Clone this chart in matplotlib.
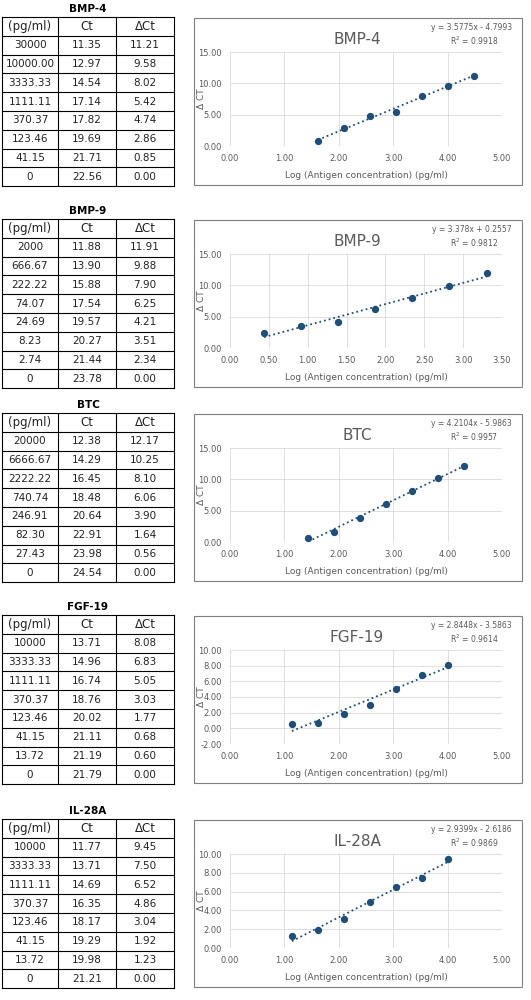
import numpy as np
import matplotlib.pyplot as plt

names = ["BMP-4", "BMP-9", "BTC", "FGF-19", "IL-28A"]
conc = [
    ["30000", "10000.00", "3333.33", "1111.11", "370.37", "123.46", "41.15", "0"],
    ["2000", "666.67", "222.22", "74.07", "24.69", "8.23", "2.74", "0"],
    ["20000", "6666.67", "2222.22", "740.74", "246.91", "82.30", "27.43", "0"],
    ["10000", "3333.33", "1111.11", "370.37", "123.46", "41.15", "13.72", "0"],
    ["10000", "3333.33", "1111.11", "370.37", "123.46", "41.15", "13.72", "0"],
]
ct = [
    [11.35, 12.97, 14.54, 17.14, 17.82, 19.69, 21.71, 22.56],
    [11.88, 13.90, 15.88, 17.54, 19.57, 20.27, 21.44, 23.78],
    [12.38, 14.29, 16.45, 18.48, 20.64, 22.91, 23.98, 24.54],
    [13.71, 14.96, 16.74, 18.76, 20.02, 21.11, 21.19, 21.79],
    [11.77, 13.71, 14.69, 16.35, 18.17, 19.29, 19.98, 21.21],
]
dct = [
    [11.21, 9.58, 8.02, 5.42, 4.74, 2.86, 0.85, 0.00],
    [11.91, 9.88, 7.90, 6.25, 4.21, 3.51, 2.34, 0.00],
    [12.17, 10.25, 8.10, 6.06, 3.90, 1.64, 0.56, 0.00],
    [8.08, 6.83, 5.05, 3.03, 1.77, 0.68, 0.60, 0.00],
    [9.45, 7.50, 6.52, 4.86, 3.04, 1.92, 1.23, 0.00],
]
slopes = [3.5775, 3.378, 4.2104, 2.8448, 2.9399]
intercepts = [-4.7993, 0.2557, -5.9863, -3.5863, -2.6186]
eq_text = ["y = 3.5775x - 4.7993", "y = 3.378x + 0.2557", "y = 4.2104x - 5.9863",
           "y = 2.8448x - 3.5863", "y = 2.9399x - 2.6186"]
r2_text = ["0.9918", "0.9812", "0.9957", "0.9614", "0.9869"]
xmax = [5, 3.5, 5, 5, 5]
xstep = [1, 0.5, 1, 1, 1]
yrange = [(0, 15, 5), (0, 15, 5), (0, 15, 5), (-2, 10, 2), (0, 10, 2)]
offsets = [0, 202, 396, 598, 802]

W, H = 531, 1000
fig = plt.figure(figsize=(W / 100, H / 100), dpi=100)
bg = fig.add_axes([0, 0, 1, 1])
bg.set_xlim(0, W)
bg.set_ylim(H, 0)
bg.axis("off")

def px_axes(x0, y0, x1, y1):
    return fig.add_axes([x0 / W, 1 - y1 / H, (x1 - x0) / W, (y1 - y0) / H])

col_x = [2, 58, 116, 174]
gray = "#595959"
for i, name in enumerate(names):
    o = offsets[i]
    # table
    bg.text(88, o + 9, name, ha="center", va="center", fontsize=7.5, fontweight="bold")
    top, rh = o + 17, 18.8
    nrows = 9
    for r in range(nrows + 1):
        bg.plot([col_x[0], col_x[-1]], [top + r * rh] * 2, color="black", lw=0.8)
    for c in col_x:
        bg.plot([c, c], [top, top + nrows * rh], color="black", lw=0.8)
    rows = [["(pg/ml)", "Ct", "ΔCt"]] + [[conc[i][k], f"{ct[i][k]:.2f}", f"{dct[i][k]:.2f}"]
                                         for k in range(8)]
    for r, row in enumerate(rows):
        for c, val in enumerate(row):
            bg.text((col_x[c] + col_x[c + 1]) / 2, top + (r + 0.5) * rh, val,
                    ha="center", va="center", fontsize=8.5 if r == 0 else 7.5, color="#222222")
    # chart box
    bg.add_patch(plt.Rectangle((194, o + 18), 328, 167, fill=False, ec="#7f7f7f", lw=0.8))
    bg.text(357, o + 40, name, ha="center", va="center", fontsize=11, color=gray)
    bg.text(512, o + 27, eq_text[i], ha="right", va="center", fontsize=5.5, color=gray)
    bg.text(498, o + 41, "R$^2$ = " + r2_text[i], ha="right", va="center", fontsize=5.5, color=gray)
    bg.text(366, o + 176, "Log (Antigen concentration) (pg/ml)", ha="center", va="center",
            fontsize=6.5, color=gray)

    ax = px_axes(230, o + 52, 502, o + 146)
    nz = [float(v) for v in conc[i][:7]]
    xs = np.log10(nz)
    ys = dct[i][:7]
    xl = np.array([xs.min(), xs.max()])
    ax.plot(xl, slopes[i] * xl + intercepts[i], ls=":", color="#1f4e79", lw=1.3, zorder=2)
    ax.scatter(xs, ys, s=18, color="#1f4e79", zorder=3)
    y0, y1, ys_ = yrange[i]
    ax.set_xlim(0, xmax[i])
    ax.set_ylim(y0, y1)
    ax.set_xticks(np.arange(0, xmax[i] + 0.01, xstep[i]))
    ax.set_yticks(np.arange(y0, y1 + 0.01, ys_))
    ax.xaxis.set_major_formatter(plt.FormatStrFormatter("%.2f"))
    ax.yaxis.set_major_formatter(plt.FormatStrFormatter("%.2f"))
    ax.tick_params(length=0, labelsize=6, colors=gray, pad=6)
    ax.grid(True, color="#d9d9d9", lw=0.6)
    ax.set_axisbelow(True)
    for s in ax.spines.values():
        s.set_visible(False)
    ax.set_ylabel("Δ CT", fontsize=6.5, color=gray, labelpad=-6)

fig.savefig("out.png", dpi=100)
